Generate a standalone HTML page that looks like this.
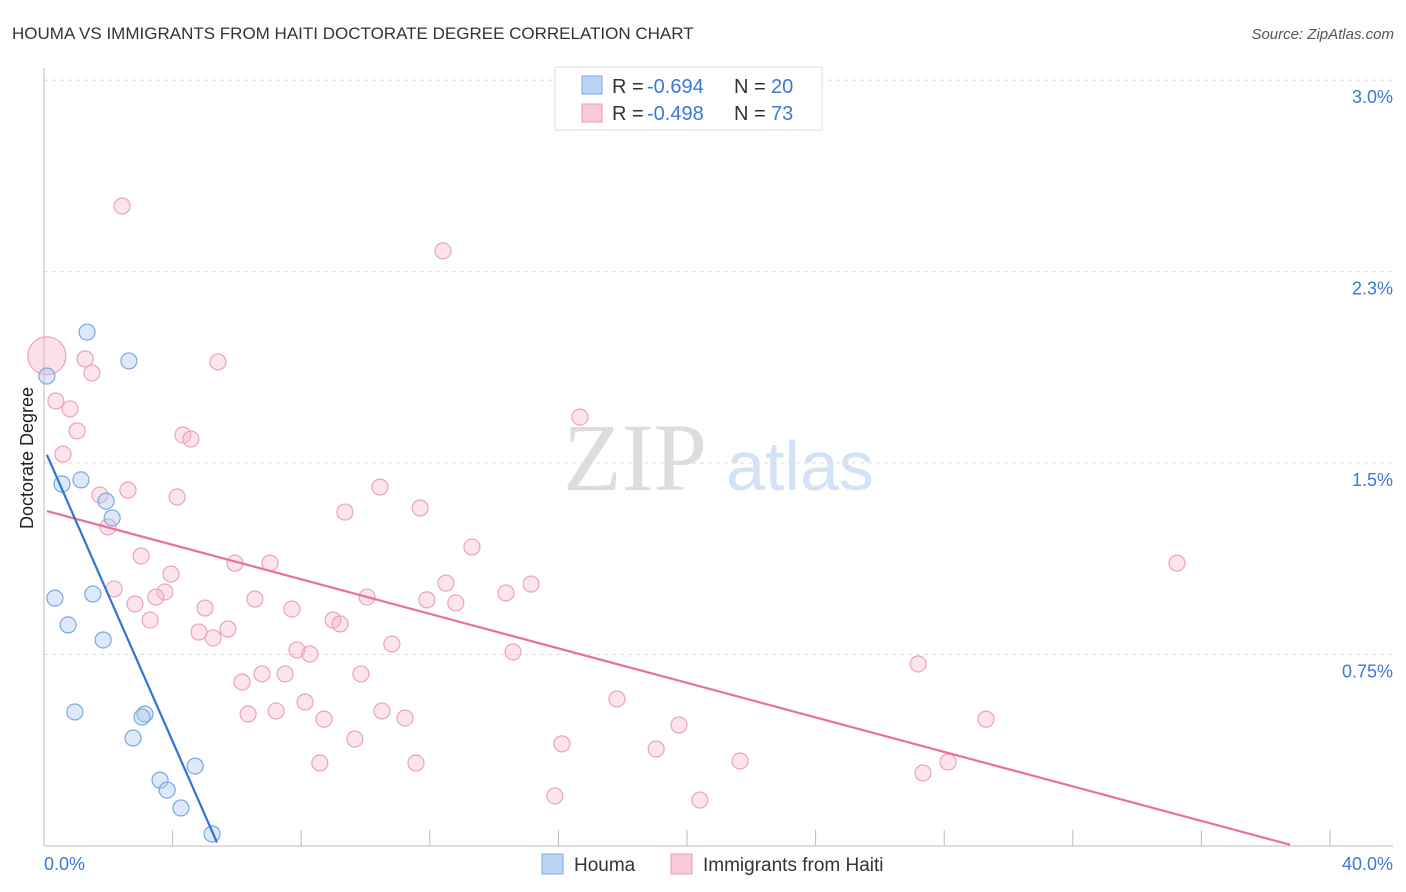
<!DOCTYPE html>
<html><head><meta charset="utf-8"><style>
body{margin:0;background:#fff;font-family:"Liberation Sans",sans-serif;}
svg{display:block}
</style></head><body>
<svg id="chart" width="1406" height="892">
<text x="12" y="39" font-size="17" fill="#333">HOUMA VS IMMIGRANTS FROM HAITI DOCTORATE DEGREE CORRELATION CHART</text>
<text x="1394" y="39" font-size="15" fill="#555" font-style="italic" text-anchor="end">Source: ZipAtlas.com</text>
<g>
<text x="635" y="490" font-size="96" font-family="Liberation Serif,serif" fill="#ddd" text-anchor="middle">ZIP</text>
<text x="800" y="490" font-size="70" fill="#d3e2f4" text-anchor="middle">atlas</text>
</g>
<g id="grid"></g><g id="axes"></g><g id="marks"></g>
<text transform="translate(33,458) rotate(-90)" font-size="18" fill="#222" text-anchor="middle">Doctorate Degree</text>
<g>
<rect x="555" y="67" width="267" height="63" fill="#fff" stroke="#ddd"/>
<rect x="582" y="76" width="20" height="18" fill="#bcd5f5" stroke="#7aa7e0"/>
<rect x="582" y="104" width="20" height="18" fill="#fbcbd9" stroke="#ec9ab5"/>
<text x="612" y="93" font-size="20" fill="#333">R =</text>
<text x="647" y="93" font-size="20" fill="#3b78d8">-0.694</text>
<text x="734" y="93" font-size="20" fill="#333">N =</text>
<text x="771" y="93" font-size="20" fill="#3b78d8">20</text>
<text x="612" y="120" font-size="20" fill="#333">R =</text>
<text x="647" y="120" font-size="20" fill="#3b78d8">-0.498</text>
<text x="734" y="120" font-size="20" fill="#333">N =</text>
<text x="771" y="120" font-size="20" fill="#3b78d8">73</text>
</g>
<g>
<rect x="542" y="854" width="21" height="20" fill="#bcd5f5" stroke="#7aa7e0"/>
<text x="574" y="871" font-size="19" fill="#333">Houma</text>
<rect x="671" y="854" width="21" height="20" fill="#fbcbd9" stroke="#ec9ab5"/>
<text x="703" y="871" font-size="19" fill="#333">Immigrants from Haiti</text>
</g>
</svg>
<script>
const yTicks=[0.75,1.5,2.25,3.0];
const yTickLabels=["0.75%","1.5%","2.3%","3.0%"];
const xTicks=[0,4,8,12,16,20,24,28,32,36,40];
const houmaX=[0.09,1.34,2.64,0.56,1.15,1.93,2.12,0.34,1.52,0.75,1.84,0.96,3.14,3.05,2.77,3.61,3.83,4.7,4.26,5.23];
const houmaY=[1.841,2.013,1.9,1.418,1.434,1.351,1.285,0.971,0.987,0.866,0.807,0.525,0.517,0.505,0.423,0.258,0.219,0.313,0.149,0.047];
const haitiPx=[[122,206],[443,251],[218,362],[85,359],[92,373],[56,401],[70,409],[77,431],[63,454],[183,435],[191,439],[580,417],[100,495],[128,490],[177,497],[108,527],[380,487],[420,508],[345,512],[141,556],[472,547],[235,563],[270,563],[171,574],[1177,563],[114,589],[446,583],[531,584],[506,593],[165,592],[156,597],[135,604],[255,599],[367,597],[427,600],[456,603],[205,608],[292,609],[150,620],[333,620],[340,624],[199,632],[228,629],[213,638],[392,644],[297,650],[310,654],[513,652],[918,664],[262,674],[285,674],[361,674],[242,682],[305,702],[617,699],[248,714],[276,711],[382,711],[324,719],[405,718],[986,719],[679,725],[355,739],[562,744],[656,749],[320,763],[416,763],[740,761],[948,762],[923,773],[555,796],[700,800]];
const haitiX=haitiPx.map(p=>+((p[0]-44)/32.15).toFixed(2));
const haitiY=haitiPx.map(p=>+((846-p[1])/255.3).toFixed(3));
const bigX=[0.09], bigY=[1.92];
const houmaTrend=[1.558,-0.287], haitiTrend=[1.315,-0.0338];
const houmaRange=[0.09,5.38], haitiRange=[0.09,38.76];
const NS="http://www.w3.org/2000/svg";
const X=v=>44+v*32.15, Y=v=>846-v*255.3;
function mk(tag,attrs,parent){const e=document.createElementNS(NS,tag);for(const k in attrs)e.setAttribute(k,attrs[k]);parent.appendChild(e);return e;}
const grid=document.getElementById('grid'),axes=document.getElementById('axes'),marks=document.getElementById('marks');
yTicks.forEach((t,i)=>{
 const l=mk('line',{x1:44,x2:1393,y1:Y(t),y2:Y(t),stroke:'#ddd','stroke-dasharray':'4,4'},grid);
 
 
 const tx=mk('text',{x:1393,y:Y(t)+23,'font-size':18,fill:'#3b78d8','text-anchor':'end'},axes);
 tx.textContent=yTickLabels[i];
 
 
});
const ax=mk('line',{x1:44,x2:44,y1:68,y2:846,stroke:'#bbb'},axes);


const bx=mk('line',{x1:44,x2:1393,y1:846,y2:846,stroke:'#bbb'},axes);


xTicks.forEach(t=>{const l=mk('line',{x1:X(t),x2:X(t),y1:830,y2:846,stroke:'#bbb'},axes);
 
 });
[[X(0),'start','0.0%'],[1393,'end','40.0%']].forEach(a=>{const t=mk('text',{x:a[0],y:870,'font-size':18,fill:'#3b78d8','text-anchor':a[1]},axes);t.textContent=a[2];
 
 });
function dots(xs,ys,r,fill,stroke,name){xs.forEach((x,i)=>{const c=mk('circle',{cx:X(x),cy:Y(ys[i]),r:r,fill:fill,stroke:stroke,'stroke-width':1.2},marks);
 
 });}
dots(haitiX,haitiY,8,'rgba(247,178,200,0.35)','#eda2bb','haiti-point');
dots(bigX,bigY,19,'rgba(247,178,200,0.4)','#eda2bb','haiti-point');
dots(houmaX,houmaY,8,'rgba(170,200,240,0.4)','#7aa7e0','houma-point');
function trend(tr,rg,col,name){const l=mk('line',{x1:X(rg[0]),y1:Y(tr[0]+tr[1]*rg[0]),x2:X(rg[1]),y2:Y(tr[0]+tr[1]*rg[1]),stroke:col,'stroke-width':2.2},marks);
 
 }
trend(haitiTrend,haitiRange,'#e8709a','haiti-trendline');
trend(houmaTrend,houmaRange,'#2f74d6','houma-trendline');
</script>
</body></html>
